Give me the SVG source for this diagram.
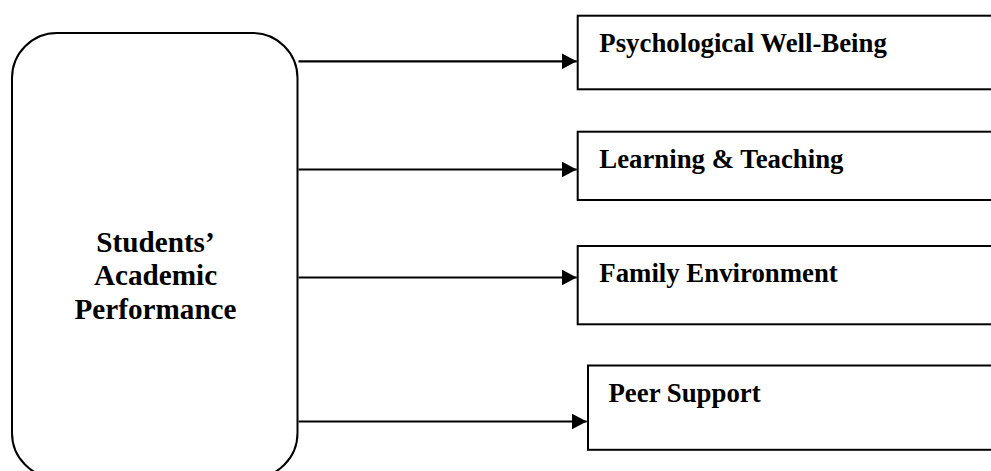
<svg xmlns="http://www.w3.org/2000/svg" width="991" height="471" viewBox="0 0 991 471">
<style>
.box{fill:#fff;stroke:#000;stroke-width:2}
.lbl{font-family:"Liberation Serif","Times New Roman",serif;font-weight:bold;font-size:26.8px;fill:#000}
.main{font-family:"Liberation Serif","Times New Roman",serif;font-weight:bold;font-size:29.2px;fill:#000;text-anchor:middle}
.conn{stroke:#000;stroke-width:2.2;fill:none}
</style>
<defs>
<marker id="ah" markerWidth="15" markerHeight="16" refX="15" refY="8" orient="auto" markerUnits="userSpaceOnUse">
<path d="M0,0 L15,8 L0,16 Z" fill="#000"/>
</marker>
</defs>
<rect width="991" height="471" fill="#fff"/>
<g id="node-main">
<rect class="box" x="12" y="33" width="285.5" height="445" rx="45" ry="45"/>
<text class="main" x="155.5" y="251.5">Students’</text>
<text class="main" x="155.5" y="285">Academic</text>
<text class="main" x="155.5" y="318.5">Performance</text>
</g>
<g id="node-psych">
<rect class="box" x="577.7" y="15.7" width="430" height="73.6"/>
<text class="lbl" x="599.3" y="51.7">Psychological Well-Being</text>
</g>
<g id="node-learning">
<rect class="box" x="577.7" y="131.7" width="430" height="68.3"/>
<text class="lbl" x="599.3" y="168.3">Learning &amp; Teaching</text>
</g>
<g id="node-family">
<rect class="box" x="577.7" y="246" width="430" height="78.3"/>
<text class="lbl" x="599.3" y="282.3">Family Environment</text>
</g>
<g id="node-peer">
<rect class="box" x="588" y="365.5" width="430" height="84.3"/>
<text class="lbl" x="608.5" y="401.7">Peer Support</text>
</g>
<g id="connectors">
<line class="conn" x1="298.5" y1="61.3" x2="576.7" y2="61.3" marker-end="url(#ah)"/>
<line class="conn" x1="298.5" y1="169.5" x2="576.7" y2="169.5" marker-end="url(#ah)"/>
<line class="conn" x1="298.5" y1="277.5" x2="576.7" y2="277.5" marker-end="url(#ah)"/>
<line class="conn" x1="298.5" y1="421.5" x2="586.7" y2="421.5" marker-end="url(#ah)"/>
</g>
</svg>
